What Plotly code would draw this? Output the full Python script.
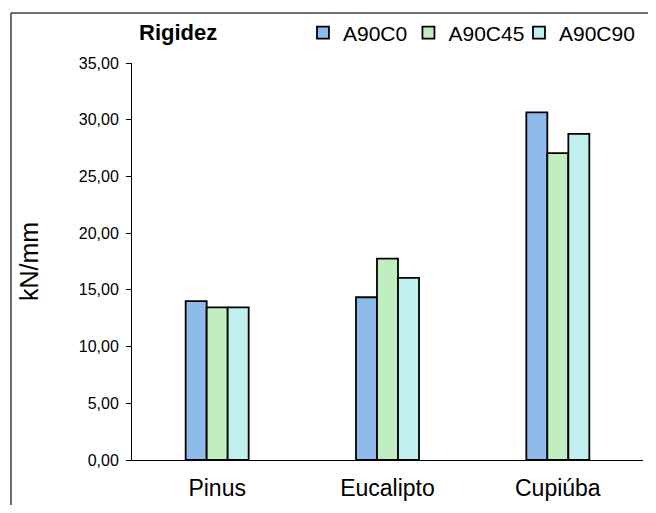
import plotly.graph_objects as go

categories = ["Pinus", "Eucalipto", "Cupiúba"]
series_names = ["A90C0", "A90C45", "A90C90"]
a90c0 = [14.00, 14.35, 30.65]
a90c45 = [13.45, 17.75, 27.05]
a90c90 = [13.45, 16.05, 28.75]
series_values = [a90c0, a90c45, a90c90]
colors = ["#8DBBEB", "#C0EEC0", "#BFEFEF"]
tick_vals = [0, 5, 10, 15, 20, 25, 30, 35]
tick_text = ["0,00", "5,00", "10,00", "15,00", "20,00", "25,00", "30,00", "35,00"]

FONT = "Liberation Sans, Arial, sans-serif"
legend_ids = ["legend", "legend2", "legend3"]
legend_x = [0.3346, 0.541, 0.7573]

fig = go.Figure()
for name, vals, col, lid in zip(series_names, series_values, colors, legend_ids):
    fig.add_trace(go.Bar(
        x=categories, y=vals, name=name, legend=lid,
        marker=dict(color=col, line=dict(color="#000000", width=1.8)),
    ))

leg_common = dict(orientation="h", xanchor="left", y=1.0756, yanchor="middle",
                  font=dict(size=21, family=FONT), bgcolor="rgba(0,0,0,0)",
                  itemwidth=30)

fig.update_layout(
    width=640, height=497,
    margin=dict(l=124, r=5, t=55, b=45, autoexpand=False),
    paper_bgcolor="white", plot_bgcolor="white",
    barmode="group", bargap=0.63, bargroupgap=0,
    font=dict(family=FONT, color="black"),
    showlegend=True,
    legend=dict(x=legend_x[0], **leg_common),
    legend2=dict(x=legend_x[1], **leg_common),
    legend3=dict(x=legend_x[2], **leg_common),
    xaxis=dict(showline=True, linecolor="black", linewidth=1, ticks="",
               ticklabelstandoff=7,
               tickfont=dict(size=23), showgrid=False),
    yaxis=dict(range=[0, 35], tickvals=tick_vals, ticktext=tick_text,
               showline=True, linecolor="black", linewidth=1,
               ticks="outside", ticklen=5, tickcolor="black",
               ticklabelstandoff=4,
               tickfont=dict(size=16), showgrid=False, zeroline=False,
               title=dict(text="kN/mm", font=dict(size=25), standoff=33)),
    annotations=[dict(text="<b>Rigidez</b>", xref="paper", yref="paper",
                      x=0.01, y=1.0756, xanchor="left", yanchor="middle",
                      showarrow=False, font=dict(size=22, family=FONT))],
    shapes=[
        dict(type="line", xref="paper", yref="paper",
             x0=-0.2368, x1=-0.2368, y0=-0.3, y1=1.126,
             line=dict(color="#404040", width=1.5), layer="below"),
        dict(type="line", xref="paper", yref="paper",
             x0=-0.2368, x1=1.3, y0=1.126, y1=1.126,
             line=dict(color="#404040", width=1.5), layer="below"),
    ],
)

fig.write_html("out.html")
